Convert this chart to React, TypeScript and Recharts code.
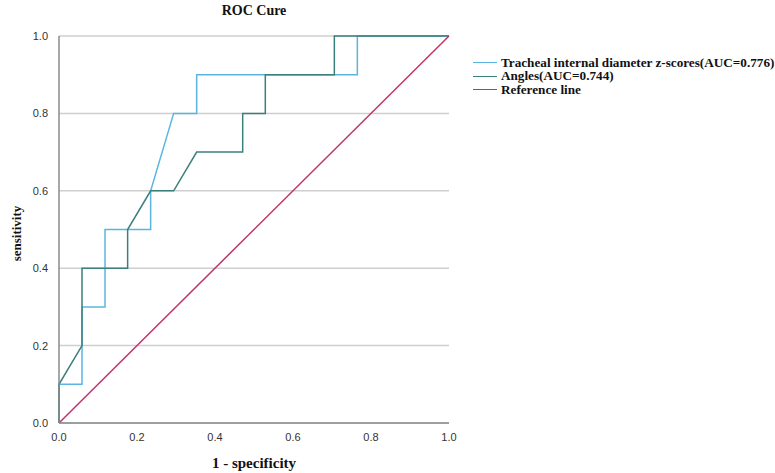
import { LineChart, Line, XAxis, YAxis, CartesianGrid, Label } from 'recharts';

// ROC points: 1 - specificity (x) vs sensitivity (y)
const trachealX = [0, 0, 0.059, 0.059, 0.118, 0.118, 0.235, 0.235, 0.294, 0.353, 0.353, 0.765, 0.765, 1];
const trachealY = [0, 0.1, 0.1, 0.3, 0.3, 0.5, 0.5, 0.6, 0.8, 0.8, 0.9, 0.9, 1, 1];

const anglesX = [0, 0, 0.059, 0.059, 0.176, 0.176, 0.235, 0.294, 0.353, 0.471, 0.471, 0.529, 0.529, 0.706, 0.706, 1];
const anglesY = [0, 0.1, 0.2, 0.4, 0.4, 0.5, 0.6, 0.6, 0.7, 0.7, 0.8, 0.8, 0.9, 0.9, 1, 1];

const referenceX = [0, 1];
const referenceY = [0, 1];

const ticks = [0, 0.2, 0.4, 0.6, 0.8, 1];

const toPoints = (xs: number[], ys: number[]) => xs.map((x, i) => ({ x, y: ys[i] }));

const series = [
  { name: 'Tracheal internal diameter z-scores(AUC=0.776)', color: '#5ab6e0', data: toPoints(trachealX, trachealY) },
  { name: 'Angles(AUC=0.744)', color: '#3b7f7c', data: toPoints(anglesX, anglesY) },
  { name: 'Reference line', color: '#c2336b', data: toPoints(referenceX, referenceY) },
];

const serif = '"Liberation Serif", "Times New Roman", serif';
const sans = '"Liberation Sans", Arial, sans-serif';

function LegendBox() {
  return (
    <div
      style={{
        position: 'absolute',
        left: 473,
        top: 56,
        fontFamily: serif,
        fontWeight: 'bold',
        fontSize: 13.2,
        color: '#111',
      }}
    >
      {series.map(s => (
        <div key={s.name} style={{ display: 'flex', alignItems: 'center', height: 13.5 }}>
          <span style={{ display: 'inline-block', width: 24, height: 0, borderTop: `1.5px solid ${s.color}`, marginRight: 4 }} />
          <span style={{ whiteSpace: 'nowrap' }}>{s.name}</span>
        </div>
      ))}
    </div>
  );
}

export default function App() {
  return (
    <div style={{ position: 'absolute', left: 0, top: 0, width: 775, height: 473, background: '#fff' }}>
      <div
        style={{
          position: 'absolute',
          left: 59,
          width: 390,
          top: 3,
          textAlign: 'center',
          fontFamily: serif,
          fontWeight: 'bold',
          fontSize: 14,
          color: '#111',
        }}
      >
        ROC Cure
      </div>
      <LineChart width={775} height={473} margin={{ top: 36, right: 326, bottom: 24, left: 14 }}>
        <CartesianGrid vertical={false} stroke="#cfcfcf" strokeWidth={1.5} />
        <XAxis
          type="number"
          dataKey="x"
          domain={[0, 1]}
          ticks={ticks}
          interval={0}
          tickFormatter={(v: number) => v.toFixed(1)}
          tickLine={false}
          axisLine={{ stroke: '#8a8a8a', strokeWidth: 1.5 }}
          tick={{ fontFamily: sans, fontSize: 11, fill: '#333' }}
          tickMargin={4}
          height={26}
          allowDuplicatedCategory={false}
        >
          <Label
            value="1 - specificity"
            position="bottom"
            offset={8}
            style={{ fontFamily: serif, fontWeight: 'bold', fontSize: 15, fill: '#111' }}
          />
        </XAxis>
        <YAxis
          type="number"
          dataKey="y"
          domain={[0, 1]}
          ticks={ticks}
          interval={0}
          tickFormatter={(v: number) => v.toFixed(1)}
          tickLine={false}
          axisLine={{ stroke: '#8a8a8a', strokeWidth: 1.5 }}
          tick={{ fontFamily: sans, fontSize: 11, fill: '#333' }}
          tickMargin={5}
          width={45}
        >
          <Label
            value="sensitivity"
            angle={-90}
            position="insideLeft"
            dx={-3}
            dy={4}
            style={{ fontFamily: serif, fontWeight: 'bold', fontSize: 13, fill: '#111', textAnchor: 'middle' }}
          />
        </YAxis>
        {series.map(s => (
          <Line
            key={s.name}
            data={s.data}
            dataKey="y"
            name={s.name}
            type="linear"
            stroke={s.color}
            strokeWidth={1.5}
            dot={false}
            activeDot={false}
            isAnimationActive={false}
          />
        ))}
      </LineChart>
      <LegendBox />
    </div>
  );
}
